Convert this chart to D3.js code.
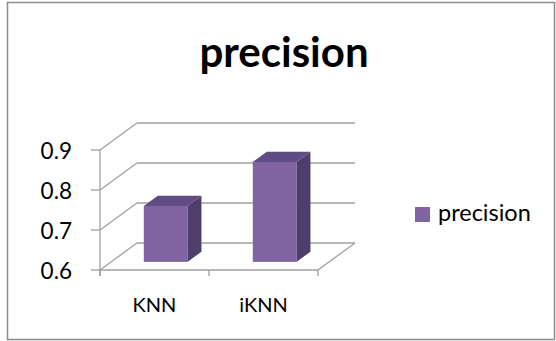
<!DOCTYPE html>
<html>
<head>
<meta charset="utf-8">
<script src="https://cdn.jsdelivr.net/npm/d3@7"></script>
<style>
  body { margin: 0; background: #fff; }
  svg { display: block; font-family: Lato, "Open Sans", sans-serif; }
</style>
</head>
<body>
<div id="chart"></div>
<script>
// Data
const categories = ["KNN", "iKNN"];
const precision = [0.74, 0.85];
const yTicks = [0.6, 0.7, 0.8, 0.9];
const seriesName = "precision";

const width = 556;
const height = 341;

const svg = d3.select("#chart")
  .append("svg")
    .attr("width", width)
    .attr("height", height);

// ------ Frame and title ------ //
svg.append("rect")
    .attr("x", 7.5)
    .attr("y", 2.5)
    .attr("width", 547)
    .attr("height", 337)
    .attr("fill", "white")
    .attr("stroke", "#8c8c8c")
    .attr("stroke-width", 1.5);

svg.append("text")
    .text(seriesName)
    .attr("x", 284)
    .attr("y", 67)
    .attr("text-anchor", "middle")
    .attr("font-weight", 700)
    .attr("font-size", 42)
    .attr("fill", "black");

// ------ Scales ------ //
const xCat = d3.scaleBand()
  .domain(categories)
  .range([100, 318]);
const xBar = d3.scaleBand()
  .domain(categories)
  .range([100, 318])
  .paddingInner(0.6)
  .paddingOuter(0.3);
const y = d3.scaleLinear()
  .domain([0.6, 0.9])
  .range([270, 150]);

// depth of the 3d box, and where the bars sit inside it
const depthX = 37;
const depthY = -27;
const barFront = 0.3;
const barBack = 0.68;

const gridColor = "#a0a0a0";
const floorY = y(0.6);
const xMin = xCat.range()[0];
const xMax = xCat.range()[1];

// ------ Walls: back grid lines and side diagonals ------ //
const walls = svg.append("g")
    .attr("stroke", gridColor)
    .attr("stroke-width", 1.3)
    .attr("fill", "none");

yTicks.forEach(t => {
  walls.append("line")
      .attr("x1", xMin + depthX).attr("y1", y(t) + depthY)
      .attr("x2", xMax + depthX).attr("y2", y(t) + depthY);
  walls.append("line")
      .attr("x1", xMin).attr("y1", y(t))
      .attr("x2", xMin + depthX).attr("y2", y(t) + depthY);
});

// floor front and right edge
walls.append("line")
    .attr("x1", xMin).attr("y1", floorY)
    .attr("x2", xMax).attr("y2", floorY);
walls.append("line")
    .attr("x1", xMax).attr("y1", floorY)
    .attr("x2", xMax + depthX).attr("y2", floorY + depthY);

// value axis
walls.append("line")
    .attr("x1", xMin).attr("y1", y(0.9))
    .attr("x2", xMin).attr("y2", floorY + 6);
yTicks.forEach(t => {
  walls.append("line")
      .attr("x1", xMin - 9).attr("y1", y(t))
      .attr("x2", xMin).attr("y2", y(t));
});

// category ticks
categories.concat([null]).forEach(c => {
  const x = c === null ? xMax : xCat(c);
  walls.append("line")
      .attr("x1", x).attr("y1", floorY)
      .attr("x2", x).attr("y2", floorY + 6);
});

// ------ Bars ------ //
const fdx = barFront * depthX, fdy = barFront * depthY;
const ddx = (barBack - barFront) * depthX, ddy = (barBack - barFront) * depthY;
const bw = xBar.bandwidth();

const bars = svg.append("g")
  .selectAll("g")
  .data(categories.map((c, i) => ({ cat: c, value: precision[i] })))
  .join("g");

bars.each(function(d) {
  const g = d3.select(this);
  const x0 = xBar(d.cat) + fdx;
  const top = y(d.value) + fdy;
  const bottom = floorY + fdy;
  // side face
  g.append("path")
      .attr("d", `M${x0 + bw},${top} L${x0 + bw + ddx},${top + ddy} L${x0 + bw + ddx},${bottom + ddy} L${x0 + bw},${bottom} Z`)
      .attr("fill", "#4f3d6b");
  // top face
  g.append("path")
      .attr("d", `M${x0},${top} L${x0 + bw},${top} L${x0 + bw + ddx},${top + ddy} L${x0 + ddx},${top + ddy} Z`)
      .attr("fill", "#604b83");
  // front face
  g.append("rect")
      .attr("x", x0)
      .attr("y", top)
      .attr("width", bw)
      .attr("height", bottom - top)
      .attr("fill", "#8064a2");
});

// ------ Axis labels ------ //
svg.append("g")
  .selectAll("text")
  .data(yTicks)
  .join("text")
    .text(d => d3.format(".1f")(d))
    .attr("x", 72)
    .attr("y", d => y(d) + 9)
    .attr("text-anchor", "end")
    .attr("font-size", 22.5)
    .attr("fill", "black");

svg.append("g")
  .selectAll("text")
  .data(categories)
  .join("text")
    .text(d => d)
    .attr("x", d => xCat(d) + xCat.bandwidth() / 2)
    .attr("y", 312)
    .attr("text-anchor", "middle")
    .attr("font-size", 20)
    .attr("fill", "black");

// ------ Legend ------ //
const legend = svg.append("g");
legend.append("rect")
    .attr("x", 415)
    .attr("y", 207)
    .attr("width", 15)
    .attr("height", 15)
    .attr("fill", "#8064a2");
legend.append("text")
    .text(seriesName)
    .attr("x", 438)
    .attr("y", 221)
    .attr("font-size", 23.5)
    .attr("fill", "black");
</script>
</body>
</html>
